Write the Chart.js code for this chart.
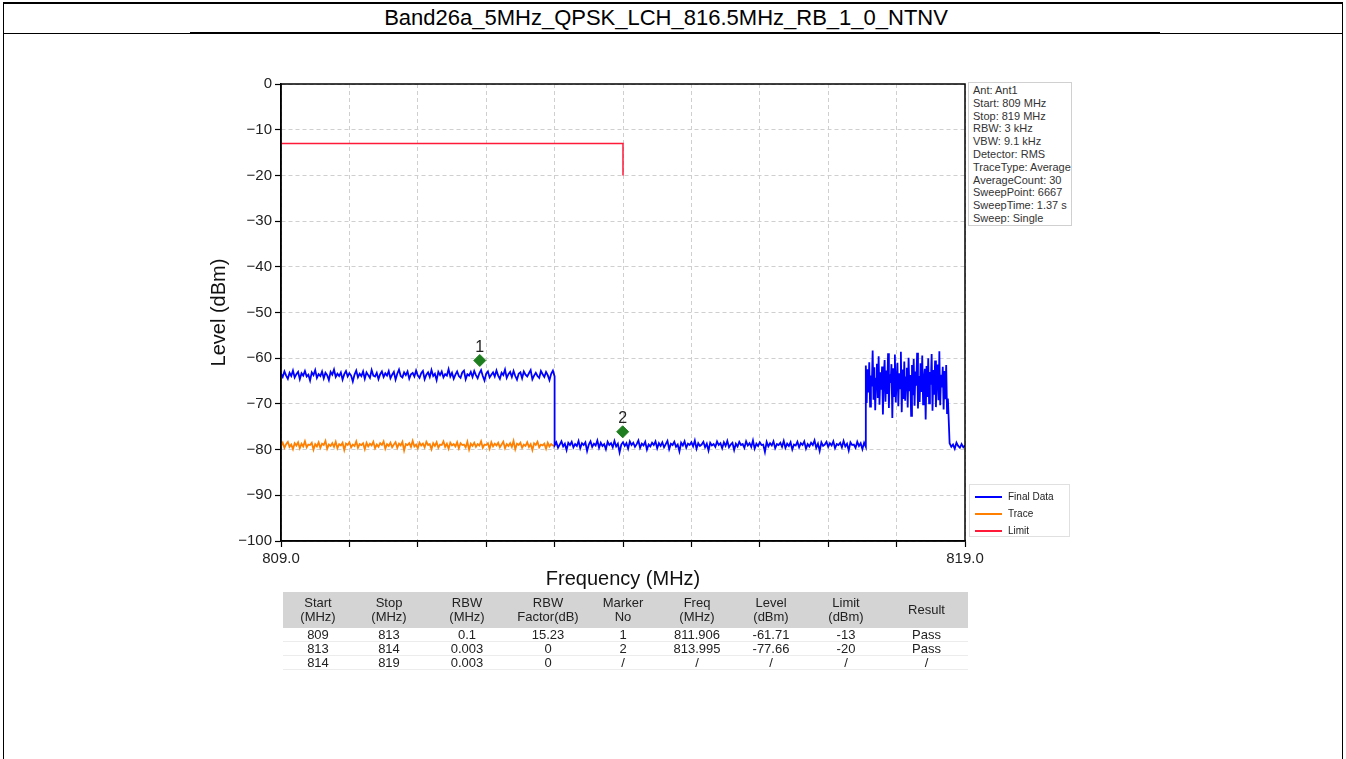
<!DOCTYPE html>
<html>
<head>
<meta charset="utf-8">
<script src="https://cdn.jsdelivr.net/npm/chart.js@4.4.1/dist/chart.umd.min.js"></script>
<style>
body{margin:0;width:1346px;height:759px;position:relative;background:#fff;font-family:"Liberation Sans",Arial,sans-serif;overflow:hidden}
#frame{position:absolute;left:3px;top:2px;width:1338px;height:770px;border-left:1px solid #000;border-right:1px solid #000;border-top:2px solid #000}
#title{position:absolute;left:-7px;top:5px;width:1346px;text-align:center;font-size:22px;line-height:26px;color:#000}
#rule{position:absolute;left:3px;top:33px;width:1340px;height:1px;background:#000}
#rule2{position:absolute;left:190px;top:32px;width:970px;height:2px;background:#000}
#chart{position:absolute;left:0;top:0}
#info{position:absolute;left:968px;top:82px;width:104px;height:144px;border:1px solid #d0d0d0;box-sizing:border-box;padding:1px 0 0 4px;font-size:11px;line-height:12.8px;color:#333;white-space:nowrap;background:#fff}
#legend{position:absolute;left:969px;top:484px;width:101px;height:53px;border:1px solid #e0e0e0;box-sizing:border-box;padding-top:3px;font-size:10px;color:#222}
#legend div{height:17px;line-height:17px;position:relative;padding-left:38px}
#legend span{position:absolute;left:5px;top:8px;width:27px;height:2px}
#tbl{position:absolute;left:283px;top:592px;border-collapse:collapse;font-size:13px;color:#222;table-layout:fixed}
#tbl th{background:#d4d4d4;font-weight:normal;line-height:14px;height:36px;padding:0;text-align:center}
#tbl td{line-height:13px;height:13px;padding:0;text-align:center;border-bottom:1px solid #ececec}
</style>
</head>
<body>
<div id="frame"></div>
<div id="title">Band26a_5MHz_QPSK_LCH_816.5MHz_RB_1_0_NTNV</div>
<div id="rule"></div><div id="rule2"></div>
<canvas id="chart" width="1346" height="600"></canvas>
<div id="info"></div>
<div id="legend"></div>
<table id="tbl"></table>
<script>
// sweep range
const freqMin = 809, freqMax = 819;
const levelMin = -100, levelMax = 0;

// Final Data trace in segments (start MHz, step MHz)
const finalStarts = [809, 813, 817.55, 818.775];
const finalSteps = [0.025, 0.025, 0.0125, 0.025];
const finalSeg1 = [
-63.4,-64.1,-62.9,-63.8,-64.5,-63.2,-63.9,-62.7,-64.2,-63.5,-63.0,-64.6,-63.3,-63.8,-62.8,-64.0,-63.6,-64.9,-63.1,-63.7,
-62.6,-64.3,-63.5,-63.9,-62.9,-64.4,-63.2,-63.7,-64.8,-63.0,-63.6,-62.5,-64.1,-63.4,-63.9,-63.1,-64.7,-63.5,-62.8,-64.0,
-63.3,-63.8,-65.1,-63.6,-62.7,-64.2,-63.4,-63.9,-62.9,-64.5,-63.1,-63.7,-64.3,-62.6,-63.8,-64.0,-63.2,-64.6,-63.5,-62.9,
-64.1,-63.3,-63.8,-62.8,-64.4,-63.6,-63.0,-64.7,-63.4,-62.5,-63.9,-64.2,-63.1,-63.7,-62.9,-64.5,-63.5,-63.2,-64.0,-62.7,
-63.8,-64.3,-63.3,-62.8,-64.6,-63.6,-63.1,-64.1,-62.6,-63.9,-63.4,-64.8,-63.0,-63.7,-62.9,-64.2,-63.5,-63.8,-62.4,-64.0,
-63.2,-64.5,-63.6,-62.9,-63.9,-64.3,-63.1,-62.7,-64.6,-63.5,-63.8,-63.0,-64.1,-62.8,-63.7,-64.4,-63.3,-62.6,-63.9,-64.9,
-63.4,-62.9,-64.2,-63.6,-63.1,-64.0,-62.7,-63.8,-64.5,-63.2,-63.7,-62.5,-64.3,-63.5,-63.0,-64.1,-62.8,-63.9,-64.7,-63.4,
-63.1,-64.4,-62.9,-63.6,-64.0,-63.3,-62.6,-64.6,-63.8,-63.2,-63.9,-64.3,-62.8,-63.5,-64.1,-63.0,-63.7,-64.8,-63.4,-62.7,
-64.0];
const finalSeg2 = [
-79.1,-78.4,-79.6,-78.9,-78.2,-79.3,-78.7,-80.1,-78.5,-79.0,-78.3,-79.5,-78.8,-79.2,-78.1,-79.7,-78.6,-79.0,-78.4,-80.3,
-78.9,-78.2,-79.4,-78.7,-79.1,-78.0,-79.6,-78.5,-79.2,-78.8,-79.9,-78.3,-79.0,-78.6,-79.5,-78.1,-79.3,-78.7,-80.6,-78.9,
-78.4,-79.2,-78.6,-79.8,-78.2,-79.0,-78.5,-79.4,-78.8,-78.0,-79.6,-78.7,-79.1,-78.3,-80.0,-78.9,-79.3,-78.5,-79.0,-78.2,
-79.7,-78.6,-79.2,-78.4,-79.5,-78.8,-78.1,-79.9,-78.7,-79.0,-78.3,-79.4,-78.9,-80.4,-78.5,-79.1,-78.2,-79.6,-78.7,-79.0,
-78.4,-79.3,-78.0,-79.8,-78.6,-79.2,-78.9,-78.3,-79.5,-78.7,-80.2,-78.5,-79.1,-78.8,-79.4,-78.2,-79.0,-78.6,-79.7,-78.4,
-79.2,-78.1,-79.5,-78.9,-78.5,-80.1,-78.7,-79.3,-78.3,-79.0,-78.8,-79.6,-78.2,-79.1,-78.6,-79.4,-78.0,-79.8,-78.7,-79.2,
-78.4,-79.0,-78.9,-80.5,-78.3,-79.3,-78.6,-79.1,-78.2,-79.7,-78.8,-79.0,-78.5,-79.4,-78.1,-79.6,-78.7,-79.2,-78.4,-80.0,
-78.9,-79.1,-78.3,-79.5,-78.6,-79.0,-78.2,-79.8,-78.8,-79.3,-78.5,-79.0,-78.0,-79.6,-78.7,-80.3,-78.4,-79.2,-78.9,-78.3,
-79.4,-78.6,-79.1,-78.2,-79.7,-78.8,-79.0,-78.5,-79.5,-78.1,-79.3,-78.7,-80.2,-78.4,-79.0,-78.9,-79.6,-78.3,-79.2,-78.6,
-79.9,-78.5,-79.4];
const finalSeg3 = [
-61.6,-69.8,-62.4,-67.5,-60.9,-70.6,-63.8,-66.2,-58.3,-69.1,-62.0,-71.4,-64.5,-61.2,-68.7,-59.6,-70.2,-63.1,-66.9,-61.8,
-72.3,-64.0,-60.4,-69.5,-62.7,-67.8,-58.9,-70.9,-63.5,-65.4,-61.3,-73.1,-62.2,-68.3,-59.2,-69.7,-64.8,-61.0,-70.5,-63.3,
-66.6,-58.6,-71.8,-62.5,-68.9,-60.7,-69.3,-64.2,-62.1,-70.8,-59.9,-67.2,-63.7,-72.6,-61.5,-68.1,-60.2,-70.4,-62.9,-66.0,
-58.8,-71.0,-63.9,-69.6,-61.1,-67.4,-59.4,-70.1,-64.6,-62.3,-73.4,-61.7,-68.5,-60.0,-69.9,-63.0,-65.8,-59.1,-71.5,-62.6,
-68.0,-60.5,-70.7,-64.3,-61.4,-69.2,-58.5,-70.3,-63.6,-66.4,-61.9,-71.2,-62.8,-69.0,-61.5,-72.0,-68.8];
const finalSeg4 = [-78.6,-79.4,-78.9,-79.8,-78.5,-79.2,-79.6,-78.8,-79.5,-79.1];

// Trace (orange), 809 - 813 MHz
const traceStart = 809, traceStep = 0.025;
const traceLevels = [
-79.2,-78.5,-79.6,-78.8,-78.3,-79.4,-78.9,-79.9,-78.6,-79.1,-78.4,-79.7,-78.7,-79.3,-78.2,-79.5,-78.9,-79.0,-78.5,-80.0,
-78.8,-79.3,-78.4,-79.6,-78.7,-79.0,-78.1,-79.8,-78.9,-79.2,-78.6,-79.4,-78.3,-79.7,-78.8,-79.1,-78.5,-80.1,-78.7,-79.0,
-78.4,-79.5,-78.9,-79.2,-78.2,-79.6,-78.8,-79.0,-78.6,-79.9,-78.5,-79.3,-78.7,-79.1,-78.3,-79.7,-78.9,-79.4,-78.6,-79.0,
-78.2,-79.8,-78.8,-79.2,-78.5,-79.5,-78.9,-78.4,-79.6,-78.7,-79.1,-78.3,-80.2,-78.8,-79.0,-78.6,-79.4,-78.1,-79.3,-78.9,
-79.7,-78.5,-79.1,-78.7,-79.5,-78.3,-79.0,-78.8,-79.9,-78.6,-79.2,-78.4,-79.6,-78.9,-79.0,-78.2,-79.4,-78.7,-79.8,-78.5,
-79.1,-78.8,-79.3,-78.4,-79.7,-78.6,-79.0,-78.9,-79.5,-78.3,-80.0,-78.7,-79.2,-78.5,-79.4,-78.8,-79.1,-78.2,-79.6,-78.9,
-79.0,-78.6,-79.8,-78.4,-79.3,-78.7,-79.1,-78.5,-79.5,-78.9,-78.3,-79.7,-78.8,-79.2,-78.6,-79.4,-78.1,-79.9,-78.7,-79.0,
-78.5,-79.6,-78.9,-79.2,-78.4,-79.4,-78.8,-80.1,-78.6,-79.0,-78.3,-79.5,-78.9,-79.1,-78.7,-79.8,-78.5,-79.3,-78.8,-79.1,
-79.2];

// Limit line
const limitFreqs = [809, 814, 814];
const limitLevels = [-13, -13, -20];

// markers
const markerFreqs = [811.906, 813.995];
const markerLevels = [-60.5, -76.1];
const markerNames = ['1', '2'];

const infoLines = ['Ant: Ant1', 'Start: 809 MHz', 'Stop: 819 MHz', 'RBW: 3 kHz', 'VBW: 9.1 kHz', 'Detector: RMS',
  'TraceType: Average', 'AverageCount: 30', 'SweepPoint: 6667', 'SweepTime: 1.37 s', 'Sweep: Single'];

const tableHead = [['Start', '(MHz)'], ['Stop', '(MHz)'], ['RBW', '(MHz)'], ['RBW', 'Factor(dB)'], ['Marker', 'No'],
  ['Freq', '(MHz)'], ['Level', '(dBm)'], ['Limit', '(dBm)'], ['Result']];
const tableRows = [
  ['809', '813', '0.1', '15.23', '1', '811.906', '-61.71', '-13', 'Pass'],
  ['813', '814', '0.003', '0', '2', '813.995', '-77.66', '-20', 'Pass'],
  ['814', '819', '0.003', '0', '/', '/', '/', '/', '/']
];
const colWidths = [70, 72, 84, 78, 72, 76, 72, 78, 83];

function segPoints(start, step, levels) {
  return levels.map((v, i) => ({x: start + i * step, y: v}));
}

const finalSegs = [finalSeg1, finalSeg2, finalSeg3, finalSeg4];
let finalData = [];
finalSegs.forEach((s, k) => { finalData = finalData.concat(segPoints(finalStarts[k], finalSteps[k], s)); });
const traceData = segPoints(traceStart, traceStep, traceLevels);
const limitData = limitFreqs.map((f, i) => ({x: f, y: limitLevels[i]}));
const markerData = markerFreqs.map((f, i) => ({x: f, y: markerLevels[i]}));

const framePlugin = {
  id: 'frame',
  afterDatasetsDraw(chart) {
    const {ctx, chartArea: a} = chart;
    ctx.save();
    ctx.strokeStyle = '#000';
    ctx.lineWidth = 1.5;
    ctx.strokeRect(a.left, a.top, a.right - a.left, a.bottom - a.top);
    const meta = chart.getDatasetMeta(0);
    ctx.fillStyle = '#222';
    ctx.font = '16px "Liberation Sans", Arial';
    ctx.textAlign = 'center';
    ctx.textBaseline = 'bottom';
    meta.data.forEach((p, i) => ctx.fillText(markerNames[i], p.x, p.y - 5));
    ctx.restore();
  }
};

Chart.defaults.font.family = '"Liberation Sans", Arial, sans-serif';
Chart.defaults.color = '#222';

const datasets = [
  {label: 'Markers', data: markerData, showLine: false, pointStyle: 'rectRot', pointRadius: 6,
   backgroundColor: '#1e7d1e', borderColor: '#1e7d1e', order: 0},
  {label: 'Final Data', data: finalData, borderColor: '#0000ff', borderWidth: 1.8, pointRadius: 0, order: 2},
  {label: 'Trace', data: traceData, borderColor: '#ff8000', borderWidth: 1.8, pointRadius: 0, order: 3},
  {label: 'Limit', data: limitData, borderColor: '#ff1a3a', borderWidth: 1.5, pointRadius: 0, order: 1}
];

new Chart(document.getElementById('chart'), {
  type: 'line',
  data: {datasets: datasets},
  options: {
    responsive: false,
    animation: false,
    devicePixelRatio: 1,
    events: [],
    layout: {padding: {left: 203, right: 381, top: 84, bottom: 5}},
    plugins: {legend: {display: false}, tooltip: {enabled: false}},
    scales: {
      x: {
        type: 'linear', min: freqMin, max: freqMax,
        afterFit: s => { s.height = 54; },
        ticks: {stepSize: 1, autoSkip: false, maxRotation: 0, padding: 3, color: '#222', font: {size: 15},
          callback: v => (v === freqMin || v === freqMax) ? v.toFixed(1) : ''},
        grid: {color: '#cfcfcf', lineWidth: 1, borderDash: [4, 3], tickLength: 6, tickColor: '#000', tickWidth: 1.2},
        border: {color: '#000', width: 1.5, dash: [4, 3]},
        title: {display: true, text: 'Frequency (MHz)', color: '#111', font: {size: 20}}
      },
      y: {
        min: levelMin, max: levelMax,
        afterFit: s => { s.width = 78; },
        ticks: {stepSize: 10, padding: 3, color: '#222', font: {size: 15},
          callback: v => String(v).replace('-', '\u2212')},
        grid: {color: '#cfcfcf', lineWidth: 1, borderDash: [4, 3], tickLength: 6, tickColor: '#000', tickWidth: 1.2},
        border: {color: '#000', width: 1.5, dash: [4, 3]},
        title: {display: true, text: 'Level (dBm)', color: '#111', font: {size: 20}}
      }
    }
  },
  plugins: [framePlugin]
});

// info box
document.getElementById('info').innerHTML = infoLines.map(t => '<div>' + t + '</div>').join('');

// legend
document.getElementById('legend').innerHTML = datasets.slice(1).map(d =>
  '<div><span style="background:' + d.borderColor + '"></span>' + d.label + '</div>').join('');

// table
let html = '<colgroup>' + colWidths.map(w => '<col style="width:' + w + 'px">').join('') + '</colgroup><tr>';
html += tableHead.map(h => '<th>' + h.join('<br>') + '</th>').join('') + '</tr>';
tableRows.forEach(r => { html += '<tr>' + r.map(c => '<td>' + c + '</td>').join('') + '</tr>'; });
document.getElementById('tbl').innerHTML = html;
</script>
</body>
</html>
